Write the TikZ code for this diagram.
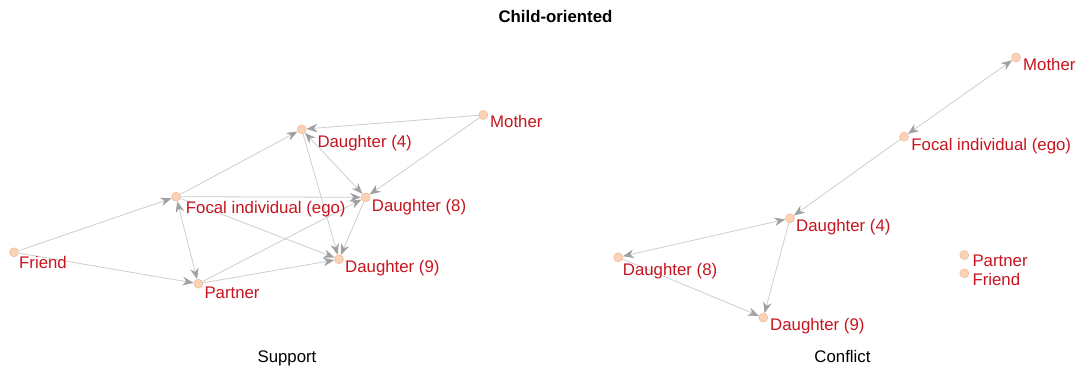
\documentclass[tikz,border=0pt]{standalone}
\usepackage{fontspec}
\setmainfont{Liberation Sans}
\usetikzlibrary{arrows.meta,backgrounds}
\definecolor{dotfill}{HTML}{FCD2B6}
\definecolor{dotline}{HTML}{EDB893}
\definecolor{labred}{HTML}{C8141E}
\definecolor{edgegray}{HTML}{CDCDCD}
\definecolor{tipgray}{HTML}{A0A0A0}
\tikzset{
  vdot/.style={circle,minimum size=9pt,inner sep=0pt,fill=dotfill,draw=dotline,line width=0.5pt},
  vlab/.style={anchor=base west,inner sep=0pt,text=labred,font=\fontsize{16.8}{19}\selectfont},
  captext/.style={anchor=base,inner sep=0pt,font=\fontsize{16.8}{19}\selectfont},
  ttl/.style={anchor=base,inner sep=0pt,font=\fontsize{16.8}{19}\selectfont\bfseries},
  conn/.style={draw=edgegray,line width=0.8pt,-{Stealth[length=11pt,width=8.5pt,color=tipgray]}},
  bconn/.style={draw=edgegray,line width=0.8pt,{Stealth[length=11pt,width=8.5pt,color=tipgray]}-{Stealth[length=11pt,width=8.5pt,color=tipgray]}}
}
\begin{document}
\begin{tikzpicture}[x=1pt,y=-1pt]
\useasboundingbox (0,0) rectangle (1085,369);
% title and captions
\node[ttl] (title) at (555.5,22.5) {Child-oriented};
\node[captext] (capS) at (287,362.5) {Support};
\node[captext] (capC) at (842.5,362.5) {Conflict};
% left panel nodes
\node[vdot] (LFriend) at (14,252.3) {};
\node[vdot] (LFocal) at (176,196.7) {};
\node[vdot] (LPartner) at (198.3,283.7) {};
\node[vdot] (LD4) at (301.7,129.3) {};
\node[vdot] (LMother) at (483.3,115) {};
\node[vdot] (LD8) at (365.7,197.3) {};
\node[vdot] (LD9) at (339,259.3) {};
\node[vlab] (tLFriend) at (19,268.3) {Friend};
\node[vlab] (tLFocal) at (185.7,213.3) {Focal individual (ego)};
\node[vlab] (tLPartner) at (204.3,298.3) {Partner};
\node[vlab] (tLD4) at (317.3,147.5) {Daughter (4)};
\node[vlab] (tLMother) at (490,127.3) {Mother};
\node[vlab] (tLD8) at (371.7,211) {Daughter (8)};
\node[vlab] (tLD9) at (345,272.5) {Daughter (9)};
% right panel nodes
\node[vdot] (RMother) at (1016,57.5) {};
\node[vdot] (RFocal) at (904,136.7) {};
\node[vdot] (RD4) at (790,218.3) {};
\node[vdot] (RD8) at (618.3,257.3) {};
\node[vdot] (RD9) at (763.3,317.7) {};
\node[vdot] (RPartner) at (964.3,255) {};
\node[vdot] (RFriend) at (964.3,273.3) {};
\node[vlab] (tRMother) at (1023,70.5) {Mother};
\node[vlab] (tRFocal) at (911.2,150.5) {Focal individual (ego)};
\node[vlab] (tRD4) at (796,231.5) {Daughter (4)};
\node[vlab] (tRD8) at (622.7,275) {Daughter (8)};
\node[vlab] (tRD9) at (770,330) {Daughter (9)};
\node[vlab] (tRPartner) at (972.3,266) {Partner};
\node[vlab] (tRFriend) at (972.3,285) {Friend};
\begin{scope}[on background layer]
% left edges
\draw[conn] (LFriend) -- (LFocal);
\draw[conn] (LFriend) -- (LPartner);
\draw[bconn] (LFocal) -- (LPartner);
\draw[conn] (LFocal) -- (LD4);
\draw[conn] (LFocal) -- (LD8);
\draw[conn] (LFocal) -- (LD9);
\draw[conn] (LPartner) -- (LD8);
\draw[conn] (LPartner) -- (LD9);
\draw[conn] (LMother) -- (LD4);
\draw[conn] (LMother) -- (LD8);
\draw[bconn] (LD4) -- (LD8);
\draw[conn] (LD4) -- (LD9);
\draw[conn] (LD8) -- (LD9);
% right edges
\draw[bconn] (RFocal) -- (RMother);
\draw[conn] (RFocal) -- (RD4);
\draw[bconn] (RD8) -- (RD4);
\draw[conn] (RD4) -- (RD9);
\draw[conn] (RD8) -- (RD9);
\end{scope}
\end{tikzpicture}
\end{document}
